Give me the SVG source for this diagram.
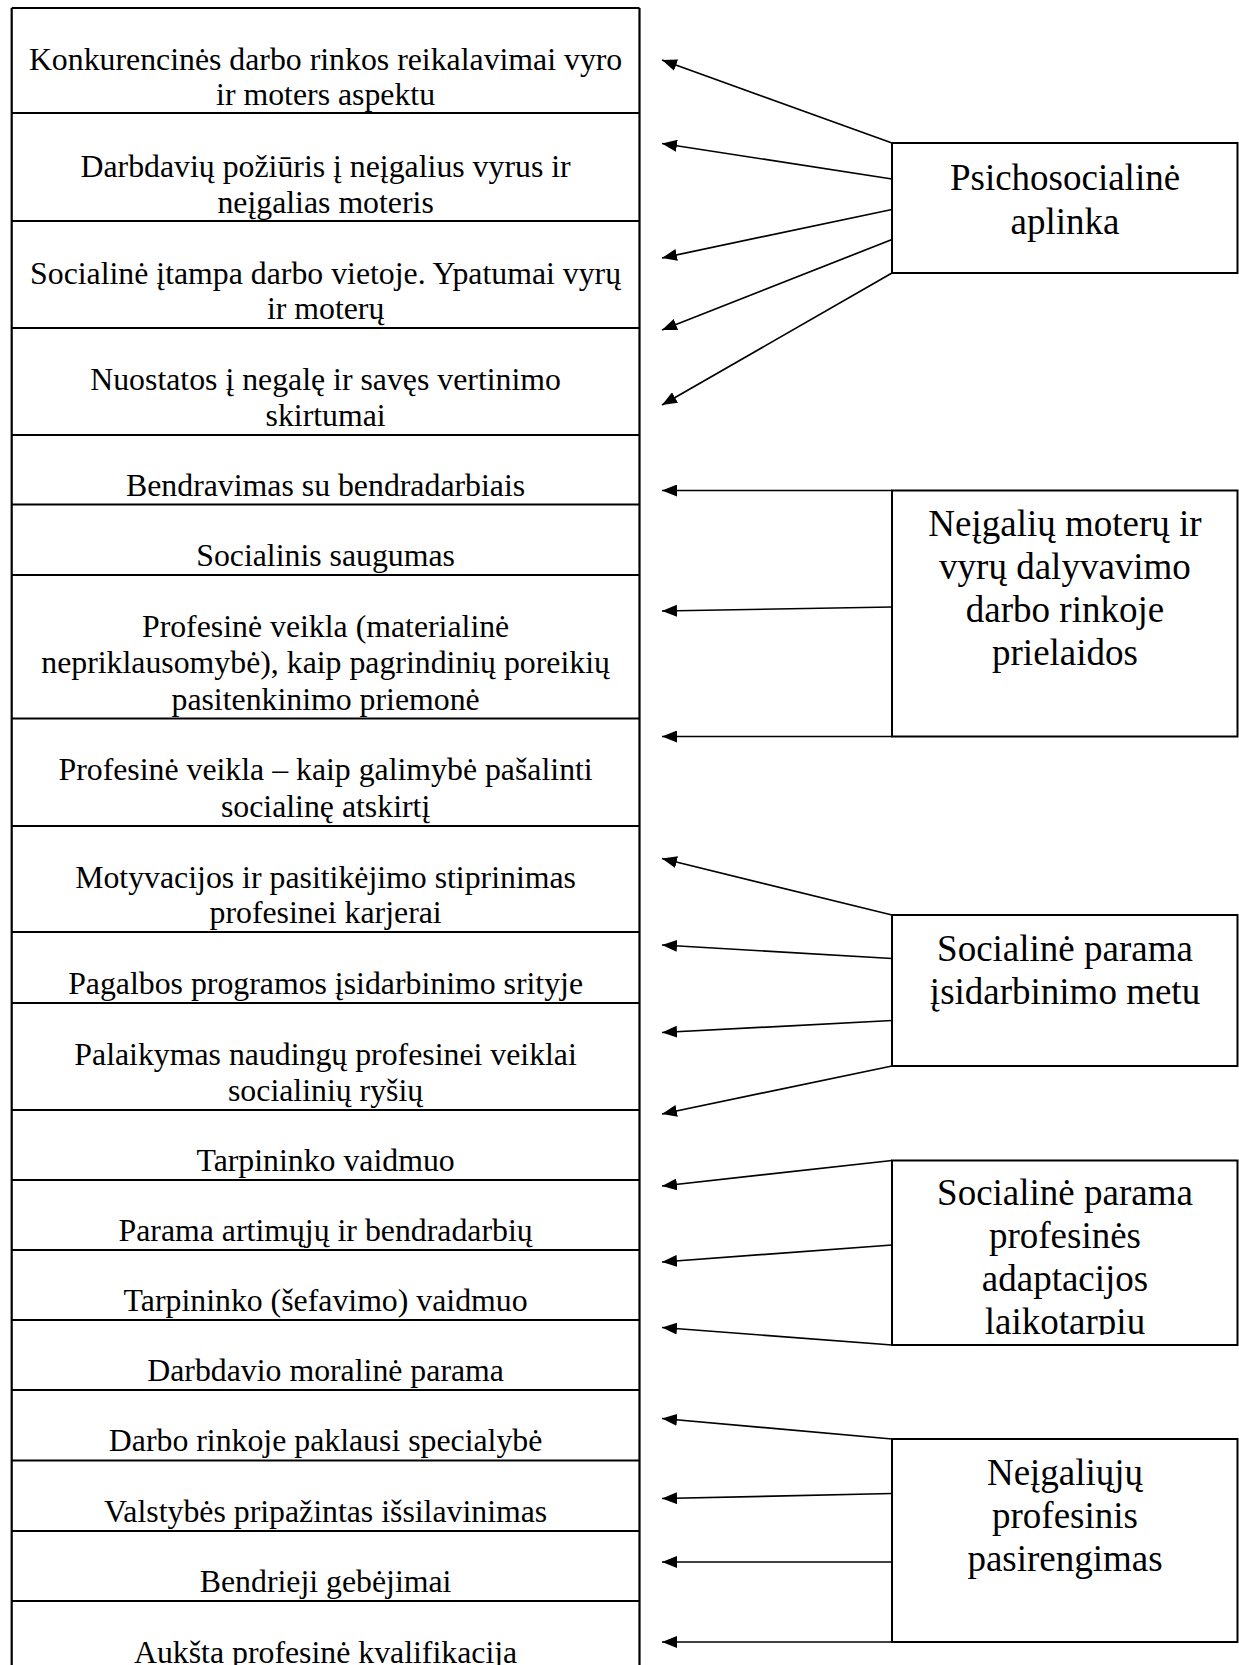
<svg xmlns="http://www.w3.org/2000/svg" width="1239" height="1665" viewBox="0 0 1239 1665">
<style>
  .t{font-family:"Liberation Serif","Times New Roman",serif;font-size:31.8px;fill:#000;text-anchor:middle}
  .b{font-family:"Liberation Serif","Times New Roman",serif;font-size:37px;fill:#000;text-anchor:middle}
  .row{stroke:#000;stroke-width:2.2;fill:none}
  .box{stroke:#000;stroke-width:2;fill:#fff}
  .arr{stroke:#000;stroke-width:1.7;fill:none;marker-end:url(#ah)}
</style>
<defs>
  <marker id="ah" viewBox="0 0 15 12" refX="15" refY="6" markerWidth="15" markerHeight="12" markerUnits="userSpaceOnUse" orient="auto">
    <path d="M0,0 L15,6 L0,12 Z" fill="#000"/>
  </marker>
  <clipPath id="clip4"><rect x="892" y="1160" width="347" height="175"/></clipPath>
</defs>
<rect width="1239" height="1665" fill="#fff"/>

<g id="table">
  <path class="row" d="M11.7,8 V1665 M639.5,8 V1665 M11.7,8 H639.5"/>
  <g id="row1"><path class="row" d="M11.7,113 H639.5"/><text class="t" x="325.6" y="70">Konkurencinės darbo rinkos reikalavimai vyro</text><text class="t" x="325.6" y="105">ir moters aspektu</text></g>
  <g id="row2"><path class="row" d="M11.7,221 H639.5"/><text class="t" x="325.6" y="177">Darbdavių požiūris į neįgalius vyrus ir</text><text class="t" x="325.6" y="212.5">neįgalias moteris</text></g>
  <g id="row3"><path class="row" d="M11.7,328 H639.5"/><text class="t" x="325.6" y="283.5">Socialinė įtampa darbo vietoje. Ypatumai vyrų</text><text class="t" x="325.6" y="319">ir moterų</text></g>
  <g id="row4"><path class="row" d="M11.7,435 H639.5"/><text class="t" x="325.6" y="390">Nuostatos į negalę ir savęs vertinimo</text><text class="t" x="325.6" y="426">skirtumai</text></g>
  <g id="row5"><path class="row" d="M11.7,504.5 H639.5"/><text class="t" x="325.6" y="495.5">Bendravimas su bendradarbiais</text></g>
  <g id="row6"><path class="row" d="M11.7,575 H639.5"/><text class="t" x="325.6" y="566">Socialinis saugumas</text></g>
  <g id="row7"><path class="row" d="M11.7,718.5 H639.5"/><text class="t" x="325.6" y="636.5">Profesinė veikla (materialinė</text><text class="t" x="325.6" y="673">nepriklausomybė), kaip pagrindinių poreikių</text><text class="t" x="325.6" y="709.5">pasitenkinimo priemonė</text></g>
  <g id="row8"><path class="row" d="M11.7,826 H639.5"/><text class="t" x="325.6" y="780">Profesinė veikla – kaip galimybė pašalinti</text><text class="t" x="325.6" y="816.5">socialinę atskirtį</text></g>
  <g id="row9"><path class="row" d="M11.7,932 H639.5"/><text class="t" x="325.6" y="887.5">Motyvacijos ir pasitikėjimo stiprinimas</text><text class="t" x="325.6" y="923">profesinei karjerai</text></g>
  <g id="row10"><path class="row" d="M11.7,1003 H639.5"/><text class="t" x="325.6" y="993.5">Pagalbos programos įsidarbinimo srityje</text></g>
  <g id="row11"><path class="row" d="M11.7,1110 H639.5"/><text class="t" x="325.6" y="1065">Palaikymas naudingų profesinei veiklai</text><text class="t" x="325.6" y="1100.5">socialinių ryšių</text></g>
  <g id="row12"><path class="row" d="M11.7,1180 H639.5"/><text class="t" x="325.6" y="1170.5">Tarpininko vaidmuo</text></g>
  <g id="row13"><path class="row" d="M11.7,1250 H639.5"/><text class="t" x="325.6" y="1240.5">Parama artimųjų ir bendradarbių</text></g>
  <g id="row14"><path class="row" d="M11.7,1320 H639.5"/><text class="t" x="325.6" y="1310.5">Tarpininko (šefavimo) vaidmuo</text></g>
  <g id="row15"><path class="row" d="M11.7,1390 H639.5"/><text class="t" x="325.6" y="1380.5">Darbdavio moralinė parama</text></g>
  <g id="row16"><path class="row" d="M11.7,1460.5 H639.5"/><text class="t" x="325.6" y="1451">Darbo rinkoje paklausi specialybė</text></g>
  <g id="row17"><path class="row" d="M11.7,1531 H639.5"/><text class="t" x="325.6" y="1521.5">Valstybės pripažintas išsilavinimas</text></g>
  <g id="row18"><path class="row" d="M11.7,1601 H639.5"/><text class="t" x="325.6" y="1591.5">Bendrieji gebėjimai</text></g>
  <g id="row19"><text class="t" x="325.6" y="1662.5">Aukšta profesinė kvalifikacija</text></g>
</g>

<g id="connectors">
  <line class="arr" x1="892" y1="143" x2="662" y2="60"/>
  <line class="arr" x1="892" y1="179" x2="662" y2="143.5"/>
  <line class="arr" x1="892" y1="209.5" x2="662" y2="258"/>
  <line class="arr" x1="892" y1="239.5" x2="662" y2="330"/>
  <line class="arr" x1="892" y1="273" x2="662" y2="405"/>
  <line class="arr" x1="892" y1="490.5" x2="662" y2="490.5"/>
  <line class="arr" x1="892" y1="607" x2="662" y2="611"/>
  <line class="arr" x1="892" y1="736.5" x2="662" y2="736.5"/>
  <line class="arr" x1="892" y1="915" x2="662" y2="858.5"/>
  <line class="arr" x1="892" y1="958.5" x2="662" y2="945"/>
  <line class="arr" x1="892" y1="1020.5" x2="662" y2="1032.5"/>
  <line class="arr" x1="892" y1="1066" x2="662" y2="1114"/>
  <line class="arr" x1="892" y1="1160.5" x2="662" y2="1186"/>
  <line class="arr" x1="892" y1="1245" x2="662" y2="1262"/>
  <line class="arr" x1="892" y1="1345" x2="662" y2="1327.5"/>
  <line class="arr" x1="892" y1="1439" x2="662" y2="1418.5"/>
  <line class="arr" x1="892" y1="1493.5" x2="662" y2="1498.5"/>
  <line class="arr" x1="892" y1="1562" x2="662" y2="1562"/>
  <line class="arr" x1="892" y1="1642" x2="662" y2="1642"/>
</g>

<g id="box1">
  <rect class="box" x="892" y="143" width="345.5" height="130"/>
  <text class="b" x="1065" y="190">Psichosocialinė</text>
  <text class="b" x="1065" y="234">aplinka</text>
</g>
<g id="box2">
  <rect class="box" x="892" y="490.5" width="345.5" height="246"/>
  <text class="b" x="1065" y="535.5">Neįgalių moterų ir</text>
  <text class="b" x="1065" y="578.5">vyrų dalyvavimo</text>
  <text class="b" x="1065" y="621.5">darbo rinkoje</text>
  <text class="b" x="1065" y="664.5">prielaidos</text>
</g>
<g id="box3">
  <rect class="box" x="892" y="915" width="345.5" height="151"/>
  <text class="b" x="1065" y="961">Socialinė parama</text>
  <text class="b" x="1065" y="1004">įsidarbinimo metu</text>
</g>
<g id="box4">
  <rect class="box" x="892" y="1160.5" width="345.5" height="184.5"/>
  <g clip-path="url(#clip4)">
    <text class="b" x="1065" y="1204.5">Socialinė parama</text>
    <text class="b" x="1065" y="1247.5">profesinės</text>
    <text class="b" x="1065" y="1290.5">adaptacijos</text>
    <text class="b" x="1065" y="1333.5">laikotarpiu</text>
  </g>
</g>
<g id="box5">
  <rect class="box" x="892" y="1439" width="345.5" height="203"/>
  <text class="b" x="1065" y="1485">Neįgaliųjų</text>
  <text class="b" x="1065" y="1528">profesinis</text>
  <text class="b" x="1065" y="1571">pasirengimas</text>
</g>
</svg>
